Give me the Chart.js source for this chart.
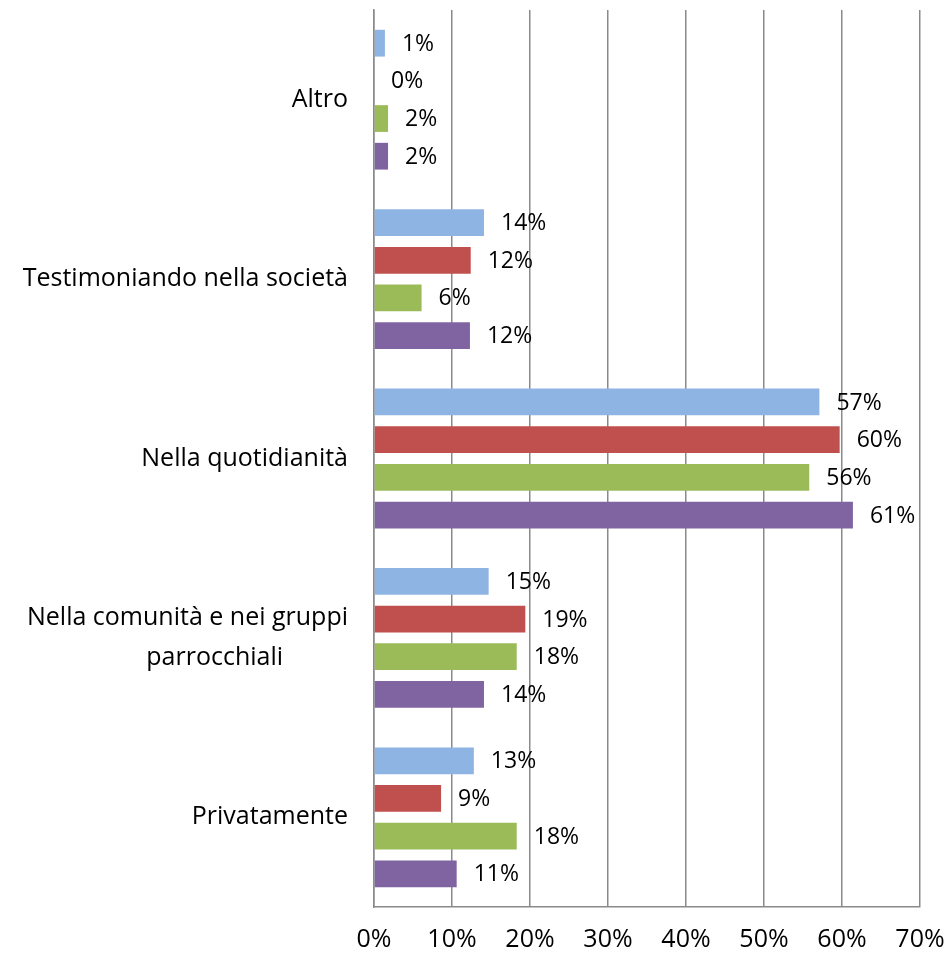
<!DOCTYPE html>
<html>
<head>
<meta charset="utf-8">
<script src="https://cdn.jsdelivr.net/npm/chart.js@4/dist/chart.umd.min.js"></script>
<style>
  html, body { margin: 0; padding: 0; background: #fff; }
  #wrap { width: 949px; height: 955px; }
</style>
</head>
<body>
<div id="wrap"><canvas id="chart" width="949" height="955"></canvas></div>
<script>
const categories = [
  "Altro",
  "Testimoniando nella società",
  "Nella quotidianità",
  ["Nella comunità e nei gruppi", "parrocchiali          "],
  "Privatamente"
];
const serieA = [1.4, 14.1, 57.1, 14.7, 12.8];
const serieB = [0, 12.4, 59.7, 19.4, 8.6];
const serieC = [1.8, 6.1, 55.8, 18.3, 18.3];
const serieD = [1.8, 12.3, 61.4, 14.1, 10.6];
const xTicks = [0, 10, 20, 30, 40, 50, 60, 70];

const FONT = '"Open Sans", sans-serif';
const gridColor = '#8a8a8a';

// labels at the end of each bar
const barLabels = {
  id: 'barLabels',
  afterDatasetsDraw(chart) {
    const ctx = chart.ctx;
    ctx.save();
    ctx.font = '23px ' + FONT;
    ctx.fillStyle = '#000';
    ctx.textAlign = 'left';
    ctx.textBaseline = 'middle';
    chart.data.datasets.forEach((ds, i) => {
      chart.getDatasetMeta(i).data.forEach((bar, j) => {
        ctx.fillText(Math.round(ds.data[j]) + '%', bar.x + 17, bar.y + 1);
      });
    });
    ctx.restore();
  }
};

const ctx = document.getElementById("chart");

new Chart(ctx, {
  type: "bar",
  data: {
    labels: categories,
    datasets: [
      { label: "Serie 1", data: serieA, backgroundColor: '#8eb4e3' },
      { label: "Serie 2", data: serieB, backgroundColor: '#c0504d' },
      { label: "Serie 3", data: serieC, backgroundColor: '#9bbb59' },
      { label: "Serie 4", data: serieD, backgroundColor: '#8064a2' }
    ]
  },
  options: {
    indexAxis: 'y',
    responsive: false,
    animation: false,
    categoryPercentage: 0.84,
    barPercentage: 0.71,
    layout: { padding: { top: 10, right: 29, left: 0, bottom: 0 } },
    plugins: {
      legend: { display: false },
      tooltip: { enabled: false }
    },
    scales: {
      x: {
        min: 0,
        max: 70,
        afterBuildTicks: (scale) => { scale.ticks = xTicks.map(v => ({ value: v })); },
        afterFit: (scale) => {
          scale.height = 48;
          scale.paddingLeft = 0;
          scale.paddingRight = 0;
        },
        ticks: {
          callback: (v) => v + '%',
          color: '#000',
          font: { family: FONT, size: 25 },
          padding: 18,
          maxRotation: 0
        },
        grid: { color: gridColor, lineWidth: 1.5, drawTicks: false },
        border: { color: gridColor, width: 1.5 }
      },
      y: {
        afterFit: (scale) => {
          scale.width = 374;
          scale.paddingTop = 0;
          scale.paddingBottom = 0;
        },
        ticks: {
          color: '#000',
          font: { family: FONT, size: 25, lineHeight: 1.6 },
          padding: 26
        },
        grid: { display: false, drawTicks: false },
        border: { color: gridColor, width: 1.5 }
      }
    }
  },
  plugins: [barLabels]
});
</script>
</body>
</html>
